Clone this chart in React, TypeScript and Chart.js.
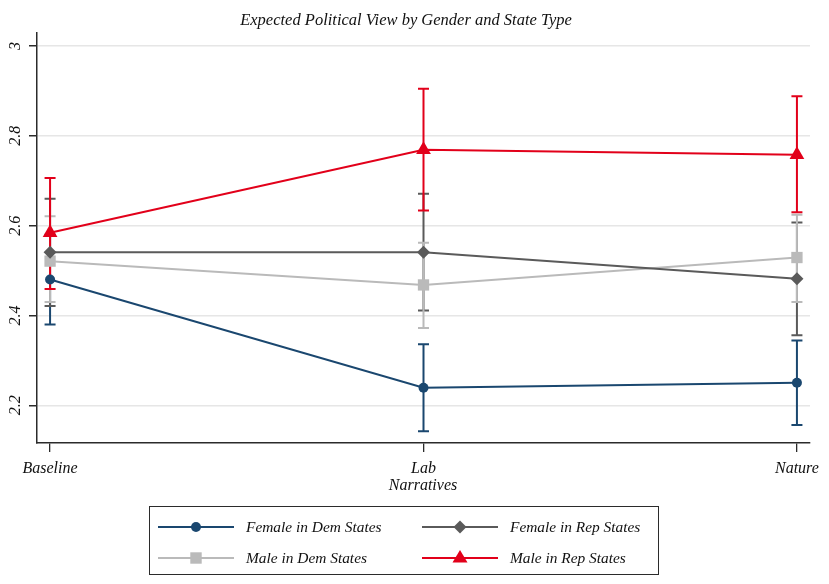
import { useEffect, useRef } from 'react';
import { Chart, registerables, type Plugin } from 'chart.js';

Chart.register(...registerables);

// Values (margins with 95% CIs).
const CATEGORIES = ['Baseline', 'Lab', 'Nature'];
const Y_TICKS = [2.2, 2.4, 2.6, 2.8, 3];

const FEMALE_DEM = [2.48, 2.239, 2.25];
const FEMALE_DEM_LO = [2.38, 2.142, 2.156];
const FEMALE_DEM_HI = [2.58, 2.336, 2.344];

const FEMALE_REP = [2.541, 2.541, 2.482];
const FEMALE_REP_LO = [2.421, 2.411, 2.356];
const FEMALE_REP_HI = [2.66, 2.671, 2.607];

const MALE_DEM = [2.521, 2.468, 2.529];
const MALE_DEM_LO = [2.43, 2.372, 2.43];
const MALE_DEM_HI = [2.621, 2.562, 2.624];

const MALE_REP = [2.584, 2.769, 2.758];
const MALE_REP_LO = [2.459, 2.634, 2.63];
const MALE_REP_HI = [2.706, 2.905, 2.888];

const TITLE = 'Expected Political View by Gender and State Type';
const X_TITLE = 'Narratives';

const BLUE = '#1a476f';
const DARK = '#5a5a5a';
const LIGHT = '#bababa';
const RED = '#e2001a';
const AXIS = '#2b2b2b';
const SERIF = '"Liberation Serif", "Times New Roman", serif';

interface Series {
  label: string;
  values: number[];
  lo: number[];
  hi: number[];
  color: string;
  pointStyle: 'circle' | 'rectRot' | 'rect' | 'triangle';
  radius: number;
  order: number;
}

const SERIES: Series[] = [
  { label: 'Female in Dem States', values: FEMALE_DEM, lo: FEMALE_DEM_LO, hi: FEMALE_DEM_HI, color: BLUE, pointStyle: 'circle', radius: 5, order: 1 },
  { label: 'Female in Rep States', values: FEMALE_REP, lo: FEMALE_REP_LO, hi: FEMALE_REP_HI, color: DARK, pointStyle: 'rectRot', radius: 6.5, order: 2 },
  { label: 'Male in Dem States', values: MALE_DEM, lo: MALE_DEM_LO, hi: MALE_DEM_HI, color: LIGHT, pointStyle: 'rect', radius: 8, order: 3 },
  { label: 'Male in Rep States', values: MALE_REP, lo: MALE_REP_LO, hi: MALE_REP_HI, color: RED, pointStyle: 'triangle', radius: 8.5, order: 0 },
];

// CI whiskers, drawn behind the lines and markers.
const errorBarPlugin: Plugin = {
  id: 'errorBars',
  beforeDatasetsDraw(chart) {
    const { ctx } = chart;
    const x = chart.scales.x;
    const y = chart.scales.y;
    ctx.save();
    ctx.lineWidth = 2;
    SERIES.forEach((s) => {
      ctx.strokeStyle = s.color;
      s.values.forEach((_, i) => {
        const px = x.getPixelForValue(i);
        const top = y.getPixelForValue(s.hi[i]);
        const bot = y.getPixelForValue(s.lo[i]);
        ctx.beginPath();
        ctx.moveTo(px, top);
        ctx.lineTo(px, bot);
        ctx.moveTo(px - 5.5, top);
        ctx.lineTo(px + 5.5, top);
        ctx.moveTo(px - 5.5, bot);
        ctx.lineTo(px + 5.5, bot);
        ctx.stroke();
      });
    });
    ctx.restore();
  },
};

// Title, rotated y tick labels and x axis title.
const textPlugin: Plugin = {
  id: 'stataText',
  afterDraw(chart) {
    const { ctx } = chart;
    const y = chart.scales.y;
    ctx.save();
    ctx.fillStyle = '#111';
    ctx.textAlign = 'center';
    ctx.textBaseline = 'middle';
    ctx.font = `italic 16.5px ${SERIF}`;
    ctx.fillText(TITLE, 406, 21);

    ctx.font = `italic 16px ${SERIF}`;
    ctx.fillText(X_TITLE, 423, 486);

    Y_TICKS.forEach((t) => {
      const py = y.getPixelForValue(t);
      ctx.save();
      ctx.translate(16, py);
      ctx.rotate(-Math.PI / 2);
      ctx.fillText(String(t), 0, 0);
      ctx.restore();
    });
    ctx.restore();
  },
};

function Marker({ s }: { s: Series }) {
  const cx = 38;
  const cy = 8;
  let shape;
  if (s.pointStyle === 'circle') shape = <circle cx={cx} cy={cy} r={5} fill={s.color} />;
  else if (s.pointStyle === 'rectRot') shape = <polygon points={`${cx},${cy - 6.5} ${cx + 6.5},${cy} ${cx},${cy + 6.5} ${cx - 6.5},${cy}`} fill={s.color} />;
  else if (s.pointStyle === 'rect') shape = <rect x={cx - 5.7} y={cy - 5.7} width={11.4} height={11.4} fill={s.color} />;
  else shape = <polygon points={`${cx},${cy - 8} ${cx + 7.5},${cy + 4.5} ${cx - 7.5},${cy + 4.5}`} fill={s.color} />;
  return (
    <svg width={76} height={16} style={{ display: 'block' }}>
      <line x1={0} y1={cy} x2={76} y2={cy} stroke={s.color} strokeWidth={2} />
      {shape}
    </svg>
  );
}

// Legend laid out row-wise in two columns, as in the reference.
const LEGEND_COLS = [8, 272];
const LEGEND_ROWS = [20, 51];

export default function App() {
  const canvasRef = useRef<HTMLCanvasElement | null>(null);

  useEffect(() => {
    const ctx = canvasRef.current?.getContext('2d');
    if (!ctx) return undefined;
    const chart = new Chart(ctx, {
      type: 'line',
      data: {
        datasets: SERIES.map((s) => ({
          label: s.label,
          data: s.values.map((v, i) => ({ x: i, y: v })),
          borderColor: s.color,
          backgroundColor: s.color,
          borderWidth: 2,
          pointStyle: s.pointStyle,
          pointRadius: s.radius,
          pointBorderWidth: 0,
          pointBackgroundColor: s.color,
          fill: false,
          tension: 0,
          order: s.order,
        })),
      },
      options: {
        responsive: false,
        animation: false,
        layout: { padding: { left: 0, top: 33, right: 19, bottom: 0 } },
        plugins: {
          legend: { display: false },
          tooltip: { enabled: false },
          title: { display: false },
        },
        scales: {
          x: {
            type: 'linear',
            min: -0.035,
            max: 2.035,
            afterBuildTicks: (scale) => {
              scale.ticks = CATEGORIES.map((_, i) => ({ value: i }));
            },
            afterFit: (scale) => {
              scale.height = 141;
            },
            grid: {
              display: true,
              drawOnChartArea: false,
              drawTicks: true,
              tickLength: 9,
              color: AXIS,
              lineWidth: 1.3,
            },
            border: { display: true, color: AXIS, width: 1.5 },
            ticks: {
              autoSkip: false,
              maxRotation: 0,
              padding: 7,
              color: '#111',
              font: { family: SERIF, style: 'italic', size: 16 },
              callback: (v) => CATEGORIES[Number(v)] ?? '',
            },
          },
          y: {
            type: 'linear',
            min: 2.116,
            max: 3.029,
            afterBuildTicks: (scale) => {
              scale.ticks = Y_TICKS.map((v) => ({ value: v }));
            },
            afterFit: (scale) => {
              scale.width = 37;
            },
            grid: {
              color: '#e6e6e6',
              lineWidth: 1.5,
              drawTicks: true,
              tickLength: 8,
              tickColor: AXIS,
            },
            border: { display: true, color: AXIS, width: 1.5 },
            ticks: { display: false },
          },
        },
      },
      plugins: [errorBarPlugin, textPlugin],
    });
    return () => chart.destroy();
  }, []);

  return (
    <div style={{ position: 'absolute', left: 0, top: 0, width: 829, height: 584, background: '#fff' }}>
      <canvas ref={canvasRef} width={829} height={584} />
      <div
        style={{
          position: 'absolute',
          left: 149,
          top: 506,
          width: 510,
          height: 69,
          border: `1px solid ${AXIS}`,
          boxSizing: 'border-box',
          fontFamily: SERIF,
          fontStyle: 'italic',
          fontSize: 15.4,
          color: '#111',
        }}
      >
        {SERIES.map((s, i) => {
          const left = LEGEND_COLS[i % 2];
          const top = LEGEND_ROWS[Math.floor(i / 2)];
          return (
            <div key={s.label}>
              <div style={{ position: 'absolute', left, top: top - 8 }}>
                <Marker s={s} />
              </div>
              <div style={{ position: 'absolute', left: left + 88, top: top - 10, lineHeight: '20px', whiteSpace: 'nowrap' }}>
                {s.label}
              </div>
            </div>
          );
        })}
      </div>
    </div>
  );
}
